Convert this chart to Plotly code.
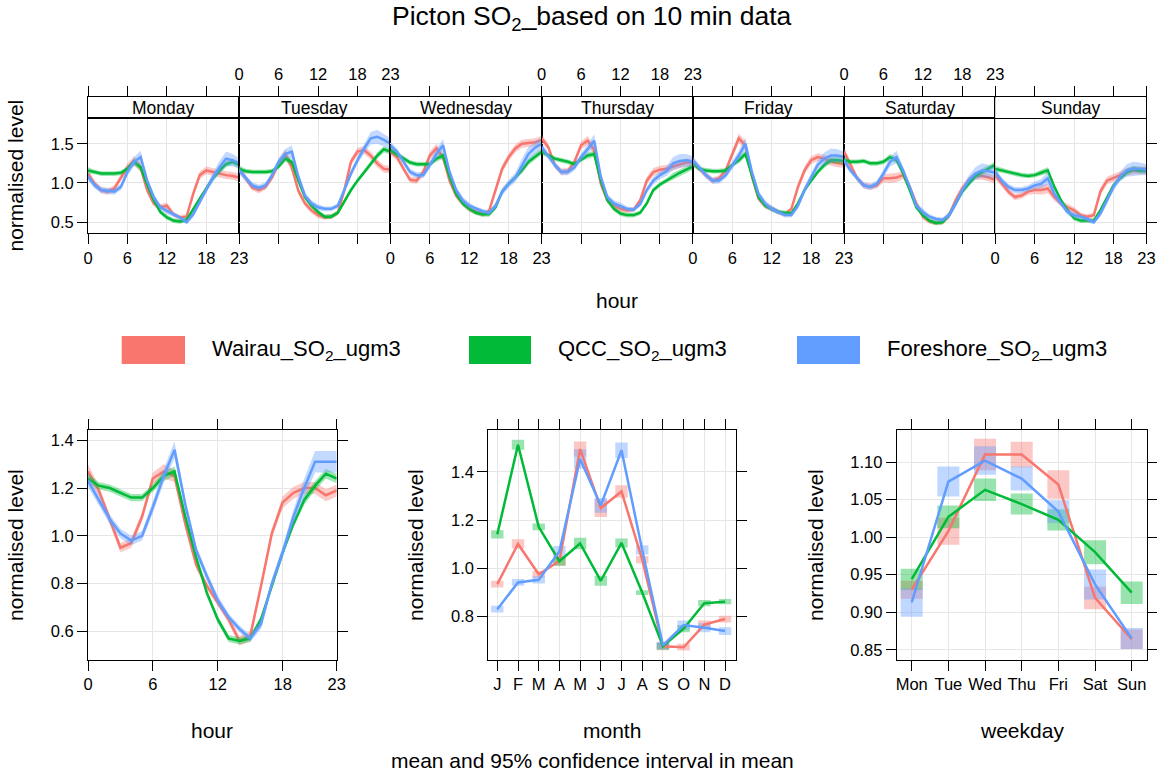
import plotly.graph_objects as go

W, H = 1157, 774
def fx(p): return p / W
def fy(p): return 1 - p / H

FONT = "Liberation Sans, Arial, sans-serif"
RED, GREEN, BLUE = "#F8766D", "#00BA38", "#619CFF"
GRID = "#E6E6E6"

def rgba(hexc, a):
    h = hexc.lstrip("#")
    return "rgba(%d,%d,%d,%.2f)" % (int(h[0:2], 16), int(h[2:4], 16), int(h[4:6], 16), a)

# ---------------- data ----------------
hours = list(range(24))
days = ["Monday", "Tuesday", "Wednesday", "Thursday", "Friday", "Saturday", "Sunday"]
series_names = ["Wairau_SO<sub>2</sub>_ugm3", "QCC_SO<sub>2</sub>_ugm3", "Foreshore_SO<sub>2</sub>_ugm3"]

wairau_dayhour = {
    "Monday":    [1.12, 0.99, 0.91, 0.89, 0.93, 1.07, 1.20, 1.28, 1.20, 0.91, 0.74, 0.69, 0.71, 0.60, 0.56, 0.57, 0.86, 1.10, 1.16, 1.14, 1.12, 1.10, 1.09, 1.07],
    "Tuesday":   [1.18, 1.06, 0.94, 0.91, 0.95, 1.07, 1.25, 1.37, 1.20, 0.90, 0.74, 0.65, 0.59, 0.56, 0.57, 0.62, 0.91, 1.27, 1.40, 1.42, 1.35, 1.25, 1.18, 1.17],
    "Wednesday": [1.40, 1.33, 1.18, 1.04, 1.03, 1.14, 1.35, 1.44, 1.33, 1.03, 0.84, 0.74, 0.67, 0.63, 0.60, 0.64, 0.91, 1.18, 1.33, 1.44, 1.50, 1.51, 1.52, 1.55],
    "Thursday":  [1.57, 1.46, 1.23, 1.14, 1.15, 1.27, 1.48, 1.54, 1.42, 0.99, 0.78, 0.71, 0.67, 0.65, 0.66, 0.78, 1.03, 1.14, 1.17, 1.18, 1.21, 1.24, 1.26, 1.26],
    "Friday":    [1.27, 1.18, 1.10, 1.03, 1.06, 1.16, 1.37, 1.57, 1.48, 1.08, 0.80, 0.71, 0.67, 0.63, 0.60, 0.67, 0.95, 1.16, 1.29, 1.33, 1.31, 1.27, 1.25, 1.24],
    "Saturday":  [1.40, 1.23, 1.06, 0.97, 0.95, 0.97, 1.06, 1.06, 1.07, 1.10, 0.95, 0.74, 0.57, 0.51, 0.49, 0.50, 0.59, 0.78, 0.93, 1.03, 1.09, 1.09, 1.07, 1.04],
    "Sunday":    [1.10, 0.99, 0.89, 0.82, 0.84, 0.89, 0.91, 0.91, 0.93, 0.82, 0.74, 0.69, 0.65, 0.59, 0.57, 0.59, 0.89, 1.03, 1.06, 1.10, 1.14, 1.16, 1.16, 1.16],
}
qcc_dayhour = {
    "Monday":    [1.16, 1.14, 1.12, 1.12, 1.12, 1.13, 1.18, 1.27, 1.20, 0.98, 0.78, 0.63, 0.56, 0.52, 0.51, 0.53, 0.67, 0.80, 0.93, 1.06, 1.16, 1.24, 1.27, 1.23],
    "Tuesday":   [1.18, 1.15, 1.14, 1.14, 1.14, 1.15, 1.21, 1.31, 1.27, 1.03, 0.82, 0.71, 0.63, 0.57, 0.57, 0.62, 0.76, 0.91, 1.03, 1.14, 1.25, 1.35, 1.43, 1.40],
    "Wednesday": [1.42, 1.37, 1.31, 1.26, 1.24, 1.24, 1.24, 1.31, 1.35, 1.08, 0.86, 0.74, 0.67, 0.62, 0.60, 0.60, 0.69, 0.89, 0.99, 1.07, 1.16, 1.27, 1.34, 1.40],
    "Thursday":  [1.40, 1.35, 1.31, 1.29, 1.27, 1.24, 1.30, 1.35, 1.37, 1.03, 0.78, 0.67, 0.61, 0.59, 0.59, 0.62, 0.74, 0.91, 0.98, 1.03, 1.09, 1.13, 1.17, 1.21],
    "Friday":    [1.25, 1.18, 1.16, 1.15, 1.15, 1.16, 1.23, 1.29, 1.37, 1.08, 0.82, 0.71, 0.67, 0.63, 0.62, 0.61, 0.74, 0.91, 1.03, 1.14, 1.23, 1.29, 1.29, 1.28],
    "Saturday":  [1.29, 1.27, 1.27, 1.28, 1.25, 1.25, 1.27, 1.33, 1.29, 1.12, 0.91, 0.69, 0.59, 0.52, 0.49, 0.50, 0.59, 0.74, 0.89, 0.99, 1.09, 1.14, 1.18, 1.23],
    "Sunday":    [1.18, 1.16, 1.14, 1.12, 1.10, 1.09, 1.10, 1.13, 1.16, 0.95, 0.78, 0.65, 0.55, 0.52, 0.52, 0.52, 0.65, 0.82, 0.97, 1.06, 1.14, 1.18, 1.16, 1.16],
}
foreshore_dayhour = {
    "Monday":    [1.08, 0.97, 0.91, 0.90, 0.89, 0.95, 1.14, 1.27, 1.33, 1.03, 0.82, 0.69, 0.64, 0.60, 0.56, 0.50, 0.60, 0.76, 0.93, 1.07, 1.20, 1.31, 1.29, 1.25],
    "Tuesday":   [1.16, 1.06, 0.97, 0.94, 0.97, 1.10, 1.27, 1.37, 1.40, 1.08, 0.84, 0.74, 0.69, 0.67, 0.67, 0.71, 0.91, 1.12, 1.29, 1.44, 1.57, 1.59, 1.55, 1.50],
    "Wednesday": [1.48, 1.40, 1.27, 1.14, 1.10, 1.10, 1.23, 1.37, 1.48, 1.14, 0.91, 0.78, 0.71, 0.67, 0.64, 0.62, 0.71, 0.89, 0.99, 1.07, 1.23, 1.37, 1.45, 1.50],
    "Thursday":  [1.46, 1.35, 1.23, 1.14, 1.14, 1.20, 1.33, 1.43, 1.54, 1.08, 0.82, 0.74, 0.71, 0.67, 0.66, 0.73, 0.91, 1.03, 1.10, 1.15, 1.25, 1.28, 1.29, 1.27],
    "Friday":    [1.29, 1.20, 1.10, 1.03, 1.03, 1.10, 1.23, 1.35, 1.50, 1.14, 0.86, 0.74, 0.67, 0.63, 0.59, 0.59, 0.71, 0.91, 1.08, 1.23, 1.31, 1.35, 1.35, 1.33],
    "Saturday":  [1.29, 1.16, 1.06, 0.97, 0.95, 0.99, 1.12, 1.27, 1.33, 1.16, 0.95, 0.71, 0.63, 0.57, 0.54, 0.53, 0.59, 0.74, 0.91, 1.04, 1.12, 1.16, 1.15, 1.13],
    "Sunday":    [1.14, 1.03, 0.95, 0.91, 0.91, 0.93, 0.97, 0.99, 1.06, 0.86, 0.74, 0.63, 0.59, 0.57, 0.54, 0.50, 0.61, 0.78, 0.95, 1.08, 1.16, 1.18, 1.18, 1.17],
}
# half-width of 95% CI (day.hour panels)
wairau_ci_dayhour    = [0.05, 0.04, 0.04, 0.04, 0.04, 0.04, 0.05, 0.06, 0.06, 0.05, 0.04, 0.04, 0.04, 0.03, 0.03, 0.03, 0.05, 0.05, 0.05, 0.05, 0.05, 0.05, 0.05, 0.05]
qcc_ci_dayhour       = [0.04, 0.03, 0.03, 0.03, 0.03, 0.03, 0.03, 0.04, 0.04, 0.03, 0.03, 0.03, 0.03, 0.03, 0.03, 0.03, 0.03, 0.03, 0.03, 0.03, 0.04, 0.04, 0.04, 0.04]
foreshore_ci_dayhour = [0.05, 0.04, 0.04, 0.04, 0.04, 0.04, 0.05, 0.06, 0.08, 0.05, 0.04, 0.04, 0.04, 0.03, 0.03, 0.03, 0.04, 0.05, 0.05, 0.06, 0.08, 0.09, 0.08, 0.07]

# hour panel
wairau_hour    = [1.27, 1.19, 1.07, 0.95, 0.97, 1.08, 1.24, 1.27, 1.25, 1.05, 0.88, 0.79, 0.72, 0.65, 0.56, 0.58, 0.79, 1.01, 1.14, 1.18, 1.20, 1.20, 1.17, 1.19]
qcc_hour       = [1.24, 1.21, 1.20, 1.18, 1.16, 1.16, 1.20, 1.25, 1.27, 1.08, 0.91, 0.76, 0.65, 0.57, 0.56, 0.57, 0.65, 0.79, 0.93, 1.05, 1.15, 1.21, 1.26, 1.24]
foreshore_hour = [1.23, 1.15, 1.07, 1.01, 0.98, 1.00, 1.12, 1.25, 1.36, 1.13, 0.94, 0.83, 0.73, 0.66, 0.61, 0.57, 0.63, 0.80, 0.93, 1.08, 1.20, 1.31, 1.31, 1.31]
wairau_ci_hour    = [0.03, 0.02, 0.02, 0.02, 0.02, 0.02, 0.025, 0.03, 0.025, 0.02, 0.02, 0.015, 0.015, 0.015, 0.02, 0.02, 0.02, 0.02, 0.025, 0.025, 0.025, 0.025, 0.025, 0.025]
qcc_ci_hour       = [0.02, 0.015, 0.015, 0.015, 0.015, 0.015, 0.015, 0.02, 0.02, 0.015, 0.015, 0.015, 0.015, 0.015, 0.015, 0.015, 0.015, 0.015, 0.015, 0.015, 0.02, 0.02, 0.02, 0.02]
foreshore_ci_hour = [0.025, 0.02, 0.02, 0.02, 0.02, 0.02, 0.025, 0.03, 0.035, 0.025, 0.02, 0.02, 0.02, 0.015, 0.015, 0.015, 0.02, 0.02, 0.025, 0.03, 0.04, 0.045, 0.045, 0.045]

# month panel
months = list(range(1, 13))
month_labels = ["J", "F", "M", "A", "M", "J", "J", "A", "S", "O", "N", "D"]
wairau_month    = [0.934, 1.101, 0.975, 1.030, 1.495, 1.250, 1.319, 1.036, 0.676, 0.672, 0.766, 0.789]
qcc_month       = [1.141, 1.513, 1.172, 1.029, 1.103, 0.948, 1.105, 0.899, 0.676, 0.749, 0.855, 0.861]
foreshore_month = [0.830, 0.941, 0.952, 1.070, 1.454, 1.261, 1.490, 1.076, 0.680, 0.764, 0.753, 0.739]
wairau_ci_month    = [0.014, 0.019, 0.014, 0.020, 0.031, 0.037, 0.026, 0.015, 0.017, 0.014, 0.017, 0.014]
qcc_ci_month       = [0.017, 0.021, 0.014, 0.019, 0.024, 0.021, 0.019, 0.010, 0.014, 0.015, 0.013, 0.011]
foreshore_ci_month = [0.014, 0.014, 0.015, 0.022, 0.040, 0.031, 0.032, 0.019, 0.015, 0.019, 0.019, 0.016]

# weekday panel
weekdays = list(range(1, 8))
weekday_labels = ["Mon", "Tue", "Wed", "Thu", "Fri", "Sat", "Sun"]
wairau_wday    = [0.930, 1.008, 1.110, 1.110, 1.070, 0.919, 0.864]
qcc_wday       = [0.944, 1.027, 1.063, 1.044, 1.023, 0.980, 0.926]
foreshore_wday = [0.913, 1.074, 1.102, 1.078, 1.034, 0.937, 0.865]
wairau_ci_wday    = [0.012, 0.018, 0.021, 0.017, 0.019, 0.015, 0.013]
qcc_ci_wday       = [0.014, 0.015, 0.015, 0.014, 0.014, 0.016, 0.015]
foreshore_ci_wday = [0.019, 0.020, 0.019, 0.016, 0.015, 0.020, 0.014]

colors = [RED, GREEN, BLUE]
dayhour_sets = [wairau_dayhour, qcc_dayhour, foreshore_dayhour]
dayhour_ci = [wairau_ci_dayhour, qcc_ci_dayhour, foreshore_ci_dayhour]
hour_sets = [wairau_hour, qcc_hour, foreshore_hour]
hour_ci = [wairau_ci_hour, qcc_ci_hour, foreshore_ci_hour]
month_sets = [wairau_month, qcc_month, foreshore_month]
month_ci = [wairau_ci_month, qcc_ci_month, foreshore_ci_month]
wday_sets = [wairau_wday, qcc_wday, foreshore_wday]
wday_ci = [wairau_ci_wday, qcc_ci_wday, foreshore_ci_wday]

fig = go.Figure()

def band_and_line(x, y, ci, color, xa, ya):
    up = [a + c for a, c in zip(y, ci)]
    lo = [a - c for a, c in zip(y, ci)]
    fig.add_trace(go.Scatter(x=list(x) + list(x)[::-1], y=up + lo[::-1], fill="toself",
                             fillcolor=rgba(color, 0.38), line=dict(width=0), mode="lines",
                             xaxis=xa, yaxis=ya, showlegend=False, hoverinfo="skip"))
    fig.add_trace(go.Scatter(x=x, y=y, mode="lines", line=dict(color=color, width=2.5),
                             xaxis=xa, yaxis=ya, showlegend=False, hoverinfo="skip"))

# top row panels
for i, d in enumerate(days):
    k = i + 1
    xa = "x" if k == 1 else "x%d" % k
    ya = "y" if k == 1 else "y%d" % k
    for s in range(3):
        band_and_line(hours, dayhour_sets[s][d], dayhour_ci[s], colors[s], xa, ya)
    # empty trace so that the strip subplot (with its top ticks) is created
    fig.add_trace(go.Scatter(x=[], y=[], xaxis="x%d" % (8 + i), yaxis="y%d" % (8 + i),
                             showlegend=False, hoverinfo="skip"))

# hour panel (axes 15)
for s in range(3):
    band_and_line(hours, hour_sets[s], hour_ci[s], colors[s], "x15", "y15")

# month & weekday panels: CI boxes then lines
for s in range(3):
    lo = [a - c for a, c in zip(month_sets[s], month_ci[s])]
    fig.add_trace(go.Bar(x=months, y=[2 * c for c in month_ci[s]], base=lo, width=0.6,
                         marker=dict(color=rgba(colors[s], 0.4), line=dict(width=0)),
                         xaxis="x16", yaxis="y16", showlegend=False, hoverinfo="skip"))
    lo = [a - c for a, c in zip(wday_sets[s], wday_ci[s])]
    fig.add_trace(go.Bar(x=weekdays, y=[2 * c for c in wday_ci[s]], base=lo, width=0.6,
                         marker=dict(color=rgba(colors[s], 0.4), line=dict(width=0)),
                         xaxis="x17", yaxis="y17", showlegend=False, hoverinfo="skip"))
for s in range(3):
    fig.add_trace(go.Scatter(x=months, y=month_sets[s], mode="lines", line=dict(color=colors[s], width=2.5),
                             xaxis="x16", yaxis="y16", showlegend=False, hoverinfo="skip"))
    fig.add_trace(go.Scatter(x=weekdays, y=wday_sets[s], mode="lines", line=dict(color=colors[s], width=2.5),
                             xaxis="x17", yaxis="y17", showlegend=False, hoverinfo="skip"))

TICKF = dict(family=FONT, size=16.5, color="black")
common = dict(showline=True, linecolor="black", linewidth=1, zeroline=False, automargin=False,
              ticklen=10, tickwidth=1, tickcolor="black", tickfont=TICKF)

layout = dict(template="none", width=W, height=H, autosize=False,
              margin=dict(l=0, r=0, t=0, b=0, pad=0),
              paper_bgcolor="white", plot_bgcolor="white", barmode="overlay",
              hovermode=False, showlegend=False, font=dict(family=FONT, color="black"))

top_y = [fy(233.3), fy(118.3)]
strip_y = [fy(118.3), fy(97.3)]
PW = 151.2
annotations = []
for i, d in enumerate(days):
    k = i + 1
    L = 88 + PW * i
    R = L + PW
    layout["xaxis%d" % k] = dict(common, domain=[fx(L), fx(R)], range=[0, 23], anchor="y%d" % k,
                                  tickvals=[0, 6, 12, 18, 23], ticks="outside",
                                  showticklabels=(i % 2 == 0), mirror=True,
                                  showgrid=True, gridcolor=GRID, gridwidth=1)
    ydict = dict(common, domain=top_y, range=[0.358, 1.825], anchor="x%d" % k,
                 tickvals=[0.5, 1.0, 1.5], tickformat=".1f", mirror=True,
                 showgrid=True, gridcolor=GRID, gridwidth=1,
                 ticks="outside" if i in (0, 6) else "",
                 side="right" if i == 6 else "left",
                 showticklabels=(i == 0))
    if k > 1:
        ydict["matches"] = "y"
    layout["yaxis%d" % k] = ydict
    # strip axes
    ks = 8 + i
    layout["xaxis%d" % ks] = dict(common, domain=[fx(L), fx(R)], range=[0, 23], anchor="y%d" % ks,
                                   side="top", tickvals=[0, 6, 12, 18, 23], ticks="outside",
                                   showticklabels=(i % 2 == 1), mirror=True, showgrid=False)
    layout["yaxis%d" % ks] = dict(showline=True, linecolor="black", linewidth=1, mirror=True,
                                   automargin=False,
                                   domain=strip_y, range=[0, 1], anchor="x%d" % ks,
                                   ticks="", showticklabels=False, showgrid=False, zeroline=False)
    annotations.append(dict(text=d, x=fx((L + R) / 2), y=fy(108), xref="paper", yref="paper",
                            showarrow=False, xanchor="center", yanchor="middle",
                            font=dict(family=FONT, size=17.5, color="black")))

bot_y = [fy(659.5), fy(429.8)]
layout["xaxis15"] = dict(common, domain=[fx(88), fx(336.7)], range=[0, 23], anchor="y15",
                         tickvals=[0, 6, 12, 18, 23], ticks="outside", mirror="ticks",
                         showgrid=True, gridcolor=GRID)
layout["yaxis15"] = dict(common, domain=bot_y, range=[0.482, 1.444], anchor="x15",
                         tickvals=[0.6, 0.8, 1.0, 1.2, 1.4], tickformat=".1f", ticks="outside",
                         mirror="ticks", showgrid=True, gridcolor=GRID)
layout["xaxis16"] = dict(common, domain=[fx(488.3), fx(736)], range=[0.565, 12.53], anchor="y16",
                         tickvals=months, ticktext=month_labels, ticks="outside", mirror="ticks",
                         showgrid=True, gridcolor=GRID)
layout["yaxis16"] = dict(common, domain=bot_y, range=[0.621, 1.575], anchor="x16",
                         tickvals=[0.8, 1.0, 1.2, 1.4], tickformat=".1f", ticks="outside",
                         mirror="ticks", showgrid=True, gridcolor=GRID)
layout["xaxis17"] = dict(common, domain=[fx(896.7), fx(1146.7)], range=[0.591, 7.409], anchor="y17",
                         tickvals=weekdays, ticktext=weekday_labels, ticks="outside", mirror="ticks",
                         showgrid=True, gridcolor=GRID)
layout["yaxis17"] = dict(common, domain=bot_y, range=[0.837, 1.143], anchor="x17",
                         tickvals=[0.85, 0.90, 0.95, 1.00, 1.05, 1.10], tickformat=".2f", ticks="outside",
                         mirror="ticks", showgrid=True, gridcolor=GRID)

def ann(text, x, y, size, angle=0):
    annotations.append(dict(text=text, x=fx(x), y=fy(y), xref="paper", yref="paper", showarrow=False,
                            xanchor="center", yanchor="middle", textangle=angle,
                            font=dict(family=FONT, size=size, color="black")))

ann("Picton SO<sub>2</sub>_based on 10 min data", 591.5, 18, 26.5)
ann("hour", 617, 300, 21)
ann("normalised level", 15, 175.5, 21, -90)
ann("normalised level", 15, 545, 21, -90)
ann("normalised level", 415, 545, 21, -90)
ann("normalised level", 815, 545, 21, -90)
ann("hour", 212.3, 730, 21)
ann("month", 612, 730, 21)
ann("weekday", 1021.7, 730, 21)
ann("mean and 95% confidence interval in mean", 592, 760, 21)

# legend (manual key)
shapes = []
legend_pos = [(121.7, 185, 210), (469, 531, 556), (797, 860, 885)]
for (x0, x1, tx), name, c in zip(legend_pos, series_names, colors):
    shapes.append(dict(type="rect", xref="paper", yref="paper", x0=fx(x0), x1=fx(x1),
                       y0=fy(364), y1=fy(336), fillcolor=c, line=dict(width=0)))
    annotations.append(dict(text=name, x=fx(tx), y=fy(350), xref="paper", yref="paper",
                            showarrow=False, xanchor="left", yanchor="middle",
                            font=dict(family=FONT, size=22, color="black")))

layout["annotations"] = annotations
layout["shapes"] = shapes
fig.update_layout(**layout)
fig.write_html("out.html", config={"displayModeBar": False},
               post_script="document.body.style.margin='0';document.body.style.overflow='hidden';")
